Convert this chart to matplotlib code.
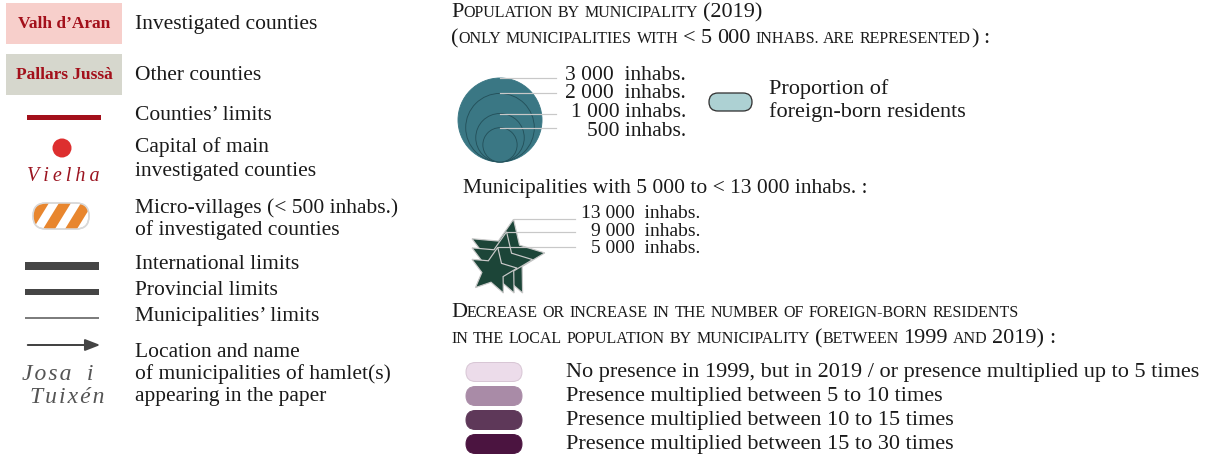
import numpy as np
import matplotlib.pyplot as plt
from matplotlib.patches import Circle, FancyBboxPatch, Polygon, Rectangle

# Map legend: population, foreign-born residents, limits

W, H = 1218, 461
SERIF = ['Liberation Serif', 'DejaVu Serif']
INK = '#1a1a1a'

# --- data ---
county_names = ['Valh d\u2019Aran', 'Pallars Jussà']
county_fill = ['#f7cfcb', '#d6d7cd']
county_labels = ['Investigated counties', 'Other counties']

limit_labels = ['International limits', 'Provincial limits', 'Municipalities\u2019 limits']
limit_colors = ['#454545', '#454545', '#7d7d7d']
limit_px = [8, 6, 1.3]

pop_values = [3000, 2000, 1000, 500]
pop_labels = ['3 000  inhabs.', '2 000  inhabs.', '1 000 inhabs.', '500 inhabs.']
star_values = [13000, 9000, 5000]
star_labels = ['13 000  inhabs.', '9 000  inhabs.', '5 000  inhabs.']

change_labels = ['No presence in 1999, but in 2019 / or presence multiplied up to 5 times',
                 'Presence multiplied between 5 to 10 times',
                 'Presence multiplied between 10 to 15 times',
                 'Presence multiplied between 15 to 30 times']
change_colors = ['#ecdcea', '#a98ba7', '#5e3859', '#4b1440']

fig = plt.figure(figsize=(W / 100, H / 100), dpi=100)
ax = fig.add_axes([0, 0, 1, 1])
ax.set_xlim(0, W)
ax.set_ylim(H, 0)
ax.axis('off')
rend = fig.canvas.get_renderer()

def px(v):
    # pixel width -> points
    return v * 0.72

def label(x, y, s, size=15.5, **kw):
    kw.setdefault('color', INK)
    kw.setdefault('va', 'center')
    ax.text(x, y + 2, s, fontsize=size, family=SERIF, **kw)

def small_caps(x, y, s, big=16, small=11.5):
    # fake small capitals: lowercase letters drawn as smaller capitals
    for word in s.split(' '):
        runs = []
        for ch in word:
            sm = ch.islower() or ch in '-.'
            if runs and runs[-1][1] == sm:
                runs[-1][0] += ch
            else:
                runs.append([ch, sm])
        for txt, sm in runs:
            t = ax.text(x, y, txt.upper(), fontsize=small if sm else big,
                        family=SERIF, va='baseline', color=INK)
            x += t.get_window_extent(renderer=rend).width
        x += small * 0.42

# --- left column ---
box_y = [3, 54]
for name, fc, lab, y0 in zip(county_names, county_fill, county_labels, box_y):
    ax.add_patch(Rectangle((6, y0), 116, 41, fc=fc, ec='none'))
    ax.text(64, y0 + 21, name, fontsize=12.5, family=SERIF,
            fontweight='bold', color='#a3101b', ha='center', va='center')
    label(135, y0 + 19, lab)

ax.add_patch(Rectangle((27, 114.5), 74, 5, fc='#a3101b', ec='none'))
label(135, 113, 'Counties\u2019 limits')

ax.add_patch(Circle((62, 148), 9.5, fc='#dd2f2f', ec='none'))
ax.text(63, 176, 'V\u2009i\u2009e\u2009l\u2009h\u2009a', fontsize=14.5, family=SERIF, style='italic',
        color='#9b1420', ha='center', va='center')
label(135, 145, 'Capital of main')
label(135, 169, 'investigated counties')

pill = FancyBboxPatch((33, 203), 56, 26, boxstyle='round,pad=0,rounding_size=13',
                      fc='white', ec='#d9d9d9', lw=px(1.5))
ax.add_patch(pill)
for x0 in np.arange(21, 95, 22):
    s = Polygon([(x0, 229), (x0 + 12, 229), (x0 + 28, 203), (x0 + 16, 203)],
                closed=True, fc='#e8862e', ec='none')
    ax.add_patch(s)
    s.set_clip_path(pill)
ax.add_patch(FancyBboxPatch((33, 203), 56, 26, boxstyle='round,pad=0,rounding_size=13',
                            fc='none', ec='#d9d9d9', lw=px(1.5)))
label(135, 206, 'Micro-villages (< 500 inhabs.)')
label(135, 228, 'of investigated counties')

limit_y = [266, 292, 318]
for lab, c, w, y in zip(limit_labels, limit_colors, limit_px, limit_y):
    ax.add_patch(Rectangle((25, y - w / 2), 74, w, fc=c, ec='none'))
    label(135, y - 4, lab)

ax.annotate('', xy=(103, 345), xytext=(25, 345),
            arrowprops=dict(arrowstyle='-|>,head_length=0.9,head_width=0.35',
                            color='#444444', lw=px(2)))
ax.text(22, 374, 'J\u200ao\u200as\u200aa\u2009 \u2009i', fontsize=17, family=SERIF, style='italic',
        color='#555555', va='center')
ax.text(30, 397, 'T\u200au\u200ai\u200ax\u200aé\u200an', fontsize=17, family=SERIF, style='italic',
        color='#555555', va='center')
label(135, 350, 'Location and name')
label(135, 372, 'of municipalities of hamlet(s)')
label(135, 394, 'appearing in the paper')

# --- population circles ---
small_caps(451, 17, 'Population by municipality (2019)')
small_caps(451, 43, '(only municipalities with < 5 000 inhabs. are represented) :')

k = 42 / np.sqrt(max(pop_values))
cx, base = 500, 162
pop_label_y = [73, 91, 110, 129]
for i, (v, lab, ly) in enumerate(zip(pop_values, pop_labels, pop_label_y)):
    r = k * np.sqrt(v)
    ec = '#3a7784' if i == 0 else '#24515b'
    ax.add_patch(Circle((cx, base - r), r, fc='#3a7784', ec=ec, lw=px(0.9), zorder=2))
    ax.plot([cx, 556], [base - 2 * r] * 2, color='#c8c8c8', lw=px(1.2), zorder=3)
    label(686, ly, lab, ha='right')

ax.add_patch(FancyBboxPatch((709, 93), 43, 18, boxstyle='round,pad=0,rounding_size=9',
                            fc='#add1d3', ec='#333333', lw=px(1.3)))
label(769, 87, 'Proportion of', size=16)
label(769, 110, 'foreign-born residents', size=16)

# --- stars ---
label(463, 186, 'Municipalities with 5 000 to < 13 000 inhabs. :')

def star(R, rot=11):
    a = np.radians(rot + np.arange(10) * 36)
    rad = np.where(np.arange(10) % 2 == 0, R, R * 0.47)
    return np.column_stack([rad * np.sin(a), -rad * np.cos(a)])

ks = 39 / np.sqrt(max(star_values))
star_label_y = [211, 229, 246]
for v, lab, ly in zip(star_values, star_labels, star_label_y):
    p = star(ks * np.sqrt(v))
    p[:, 0] += 472 - p[:, 0].min()
    p[:, 1] += 293 - p[:, 1].max()
    ax.add_patch(Polygon(p, closed=True, fc='#1c4538', ec='#c9c9c9', lw=px(1.2), zorder=2))
    top = p[0]
    ax.plot([top[0], 575], [top[1]] * 2, color='#c8c8c8', lw=px(1.2), zorder=3)
    label(700, ly, lab, size=14, ha='right')

# --- change in foreign-born residents ---
small_caps(451, 317, 'Decrease or increase in the number of foreign-born residents')
small_caps(451, 343, 'in the local population by municipality (between 1999 and 2019) :')

row_y = [372, 396, 420, 444]
for lab, c, y in zip(change_labels, change_colors, row_y):
    ec = '#d8c6d5' if c == change_colors[0] else c
    ax.add_patch(FancyBboxPatch((466, y - 9.5), 56, 19, boxstyle='round,pad=0,rounding_size=9.5',
                                fc=c, ec=ec, lw=px(1)))
    label(566, y - 2, lab, size=16)

fig.savefig('out.png', dpi=100)
